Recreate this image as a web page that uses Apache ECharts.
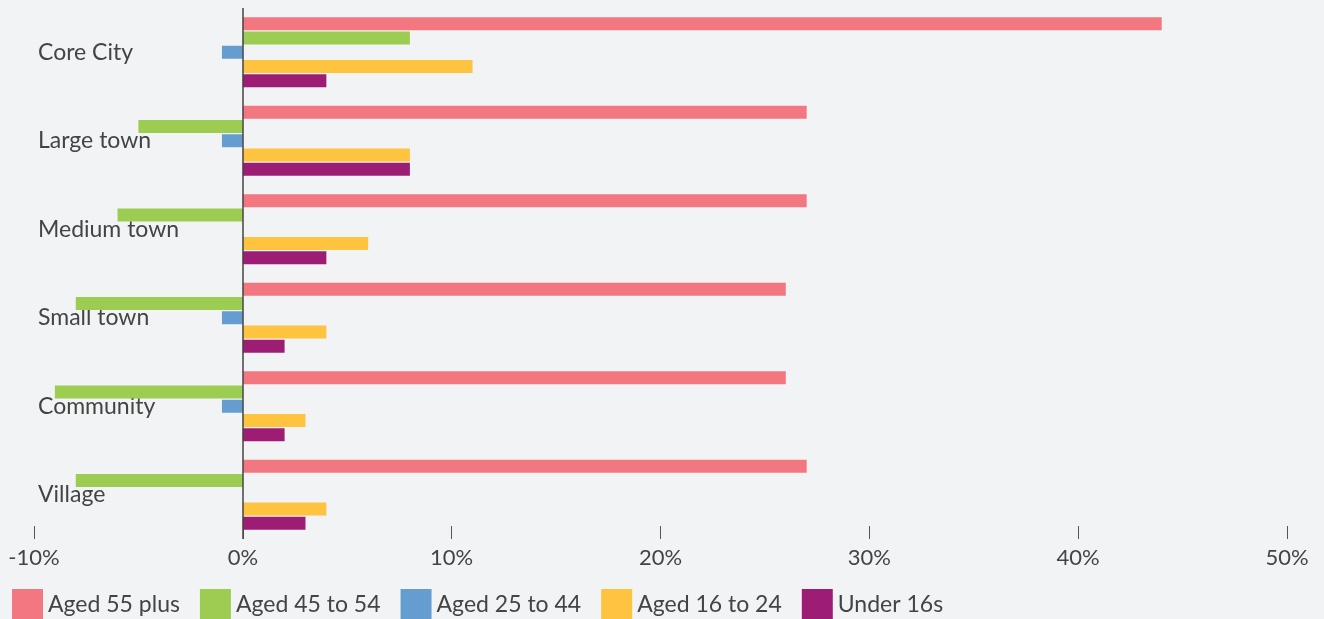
<!DOCTYPE html>
<html>
<head>
<meta charset="utf-8">
<script src="https://cdn.jsdelivr.net/npm/echarts@6/dist/echarts.min.js"></script>
<style>
  html, body { margin: 0; padding: 0; background: #f2f3f5; }
  #main { width: 1324px; height: 619px; }
</style>
</head>
<body>
<div id="main"></div>
<script>
var categories = ['Core City', 'Large town', 'Medium town', 'Small town', 'Community', 'Village'];
var aged55plus = [44, 27, 27, 26, 26, 27];
var aged45to54 = [8, -5, -6, -8, -9, -8];
var aged25to44 = [-1, -1, 0, -1, -1, 0];
var aged16to24 = [11, 8, 6, 4, 3, 4];
var under16s = [4, 8, 4, 2, 2, 3];
var seriesNames = ['Aged 55 plus', 'Aged 45 to 54', 'Aged 25 to 44', 'Aged 16 to 24', 'Under 16s'];
var colors = ['#f37780', '#9ccd52', '#669dd1', '#fec33f', '#9e1d74'];

var font = 'Lato, "Open Sans", sans-serif';
var myChart = echarts.init(document.getElementById('main'));

function makeSeries(name, data, i) {
    var s = {
        name: name,
        type: 'bar',
        data: data,
        barWidth: 13,
        barGap: '10%',
        itemStyle: { color: colors[i] }
    };
    if (i === 0) {
        // vertical zero line
        s.markLine = {
            silent: true,
            symbol: 'none',
            label: { show: false },
            lineStyle: { color: '#444', width: 1.5, type: 'solid' },
            data: [{ xAxis: 0 }]
        };
    }
    return s;
}

var option = {
    backgroundColor: '#f2f3f5',
    animation: false,
    textStyle: { fontFamily: font },
    grid: { left: 34, right: 37, top: 8, bottom: 80, containLabel: false },
    legend: {
        left: 12,
        top: 589,
        padding: 0,
        itemWidth: 31,
        itemHeight: 31,
        itemGap: 20,
        icon: 'rect',
        textStyle: { fontFamily: font, fontSize: 23, color: '#444' },
        data: seriesNames
    },
    xAxis: {
        type: 'value',
        min: -10,
        max: 50,
        interval: 10,
        splitLine: { show: false },
        axisLine: { onZero: false, lineStyle: { color: '#444', width: 1.5 } },
        axisTick: { show: true, inside: true, length: 13, lineStyle: { color: '#555' } },
        axisLabel: {
            formatter: '{value}%',
            fontFamily: font,
            fontSize: 22,
            color: '#444',
            margin: 8
        }
    },
    yAxis: {
        type: 'category',
        inverse: true,
        data: categories,
        axisLine: { show: false, onZero: false },
        axisTick: { show: false },
        splitLine: { show: false },
        axisLabel: {
            inside: true,
            align: 'left',
            margin: 4,
            padding: [4, 0, 0, 0],
            fontFamily: font,
            fontSize: 23,
            color: '#444'
        }
    },
    series: [
        makeSeries(seriesNames[0], aged55plus, 0),
        makeSeries(seriesNames[1], aged45to54, 1),
        makeSeries(seriesNames[2], aged25to44, 2),
        makeSeries(seriesNames[3], aged16to24, 3),
        makeSeries(seriesNames[4], under16s, 4)
    ]
};
myChart.setOption(option);
</script>
</body>
</html>
